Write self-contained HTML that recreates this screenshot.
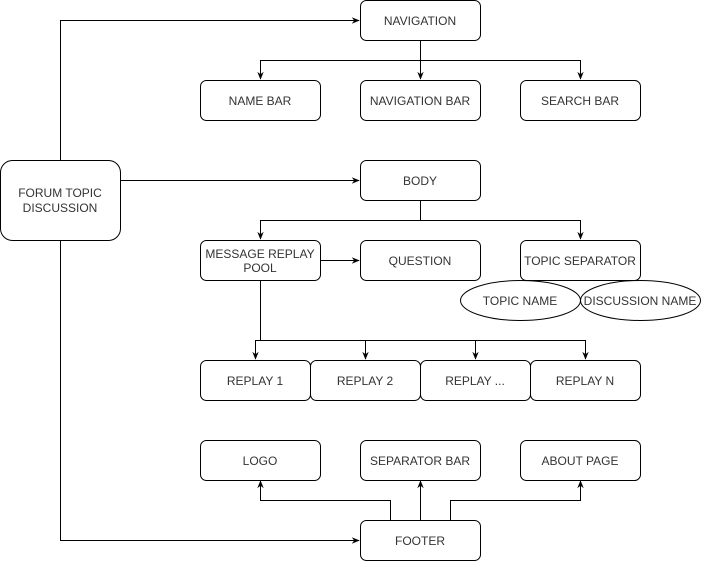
<!DOCTYPE html>
<html><head><meta charset="utf-8"><style>
html,body{margin:0;padding:0;background:#fff;}
svg{display:block;}
text{font-family:"Liberation Sans",Arial,sans-serif;font-size:12px;fill:#333;text-anchor:middle;}
</style></head><body>
<svg width="702" height="562" viewBox="0 0 702 562" xmlns="http://www.w3.org/2000/svg">
<defs><marker id="a" viewBox="0 0 10 10" refX="9" refY="5" markerWidth="8" markerHeight="8" orient="auto" markerUnits="userSpaceOnUse"><path d="M0,1 L10,5 L0,9 L3,5 Z" fill="#000"/></marker></defs>
<g fill="none" stroke="#000" stroke-width="1">
<path d="M60.5,160 V20.5 H359" marker-end="url(#a)"/>
<path d="M120,180.5 H359" marker-end="url(#a)"/>
<path d="M60.5,240 V540.5 H359" marker-end="url(#a)"/>
<path d="M420.5,40 V60.5 H260.5 V79" marker-end="url(#a)"/>
<path d="M420.5,40 V79" marker-end="url(#a)"/>
<path d="M420.5,60.5 H580.5 V79" marker-end="url(#a)"/>
<path d="M420.5,200 V220.5 H260.5 V239" marker-end="url(#a)"/>
<path d="M420.5,220.5 H580.5 V239" marker-end="url(#a)"/>
<path d="M320,260.5 H359" marker-end="url(#a)"/>
<path d="M260.5,280 V340.5 H255.5 V359" marker-end="url(#a)"/>
<path d="M260.5,340.5 H365.5 V359" marker-end="url(#a)"/>
<path d="M365.5,340.5 H475.5 V359" marker-end="url(#a)"/>
<path d="M475.5,340.5 H585.5 V359" marker-end="url(#a)"/>
<path d="M390.5,520 V500.5 H260.5 V481" marker-end="url(#a)"/>
<path d="M420.5,520 V481" marker-end="url(#a)"/>
<path d="M450.5,520 V500.5 H580.5 V481" marker-end="url(#a)"/>
</g>
<g fill="#fff" stroke="#000" stroke-width="1">
<rect x="360.5" y="0.5" width="120" height="40" rx="6"/>
<rect x="200.5" y="80.5" width="120" height="40" rx="6"/>
<rect x="360.5" y="80.5" width="120" height="40" rx="6"/>
<rect x="520.5" y="80.5" width="120" height="40" rx="6"/>
<rect x="0.5" y="160.5" width="120" height="80" rx="12"/>
<rect x="360.5" y="160.5" width="120" height="40" rx="6"/>
<rect x="200.5" y="240.5" width="120" height="40" rx="6"/>
<rect x="360.5" y="240.5" width="120" height="40" rx="6"/>
<rect x="520.5" y="240.5" width="120" height="40" rx="6"/>
<ellipse cx="520.5" cy="300.5" rx="60" ry="20"/>
<ellipse cx="640.5" cy="300.5" rx="60" ry="20"/>
<rect x="200.5" y="360.5" width="110" height="40" rx="6"/>
<rect x="310.5" y="360.5" width="110" height="40" rx="6"/>
<rect x="420.5" y="360.5" width="110" height="40" rx="6"/>
<rect x="530.5" y="360.5" width="110" height="40" rx="6"/>
<rect x="200.5" y="440.5" width="120" height="40" rx="6"/>
<rect x="360.5" y="440.5" width="120" height="40" rx="6"/>
<rect x="520.5" y="440.5" width="120" height="40" rx="6"/>
<rect x="360.5" y="520.5" width="120" height="40" rx="6"/>
</g>
<text x="420" y="25">NAVIGATION</text>
<text x="260" y="105">NAME BAR</text>
<text x="420" y="105">NAVIGATION BAR</text>
<text x="580" y="105">SEARCH BAR</text>
<text x="60" y="197">FORUM TOPIC</text>
<text x="60" y="212">DISCUSSION</text>
<text x="420" y="185">BODY</text>
<text x="260" y="258">MESSAGE REPLAY</text>
<text x="260" y="272">POOL</text>
<text x="420" y="265">QUESTION</text>
<text x="580" y="265">TOPIC SEPARATOR</text>
<text x="520" y="305">TOPIC NAME</text>
<text x="640" y="305">DISCUSSION NAME</text>
<text x="255" y="385">REPLAY 1</text>
<text x="365" y="385">REPLAY 2</text>
<text x="475" y="385">REPLAY ...</text>
<text x="585" y="385">REPLAY N</text>
<text x="260" y="465">LOGO</text>
<text x="420" y="465">SEPARATOR BAR</text>
<text x="580" y="465">ABOUT PAGE</text>
<text x="420" y="545">FOOTER</text>
</svg>
</body></html>
